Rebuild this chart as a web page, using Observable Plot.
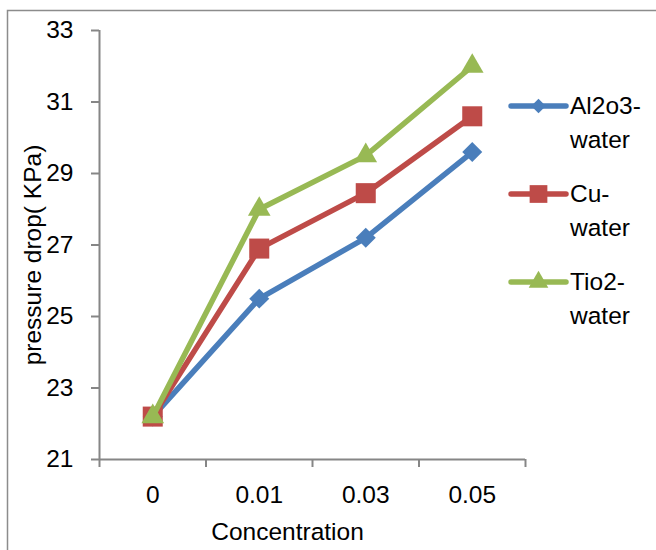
<!DOCTYPE html>
<html>
<head>
<meta charset="utf-8">
<script src="https://cdn.jsdelivr.net/npm/d3@7"></script>
<script src="https://cdn.jsdelivr.net/npm/@observablehq/plot@0.6"></script>
<style>
  html, body { margin: 0; padding: 0; background: #fff; }
  #chart { position: relative; width: 656px; height: 550px; overflow: hidden; }
</style>
</head>
<body>
<div id="chart"></div>
<script>
// ---- data ----
const categories = ["0", "0.01", "0.03", "0.05"];
const seriesNames = ["Al2o3-water", "Cu-water", "Tio2-water"];
const al2o3Water = [22.2, 25.5, 27.2, 29.6];
const cuWater = [22.2, 26.9, 28.45, 30.6];
const tio2Water = [22.2, 28.0, 29.5, 32.0];
const yTicks = [21, 23, 25, 27, 29, 31, 33];
const xLabel = "Concentration";
const yLabel = "pressure drop( KPa)";

// ---- styles ----
const colors = ["#4a7ebb", "#be4b48", "#98b954"];
const symbols = ["diamond2", "square", "triangle"];
const radii = [9, 11.3, 8.4];
const axisGray = "#868686";
const font = "Liberation Sans, Arial, sans-serif";
const fontSize = "24.5px";

const seriesValues = [al2o3Water, cuWater, tio2Water];
const rows = seriesValues.map((vals, s) =>
  vals.map((v, i) => ({series: seriesNames[s], xi: i + 0.5, value: v}))
);

const marks = [
  Plot.ruleY([21], {stroke: axisGray, strokeWidth: 2}),
  Plot.ruleX([0], {stroke: axisGray, strokeWidth: 2}),
  Plot.axisY({ticks: yTicks, tickSize: 8, tickPadding: 18, stroke: axisGray, strokeWidth: 2, fill: "#000", label: null}),
  Plot.axisX({ticks: d3.range(categories.length + 1), tickSize: 8, tickFormat: () => "", stroke: axisGray, strokeWidth: 2, label: null}),
  Plot.axisX({ticks: categories.map((c, i) => i + 0.5), tickSize: 0, tickPadding: 26, tickFormat: d => categories[d - 0.5], fill: "#000", label: null}),
  Plot.text([xLabel], {frameAnchor: "bottom", textAnchor: "middle", dy: 73, dx: -25, lineAnchor: "middle", fill: "#000"}),
  Plot.text([yLabel], {frameAnchor: "left", textAnchor: "middle", rotate: -90, dx: -66, dy: 10, lineAnchor: "middle", fill: "#000"})
];
rows.forEach((data, s) => {
  marks.push(Plot.line(data, {x: "xi", y: "value", stroke: colors[s], strokeWidth: 5.5, strokeLinejoin: "round", strokeLinecap: "round"}));
  marks.push(Plot.dot(data, {x: "xi", y: "value", symbol: () => symbols[s], fill: colors[s], r: radii[s], stroke: "none"}));
});

const plot = Plot.plot({
  width: 656,
  height: 550,
  marginLeft: 99,
  marginRight: 131,
  marginTop: 30,
  marginBottom: 91,
  style: {fontFamily: font, fontSize: fontSize, background: "#fff", overflow: "visible"},
  x: {type: "linear", domain: [0, categories.length], axis: null},
  y: {domain: [21, 33], axis: null},
  symbol: {type: "identity"},
  marks
});

const svg = d3.select(plot);
// outer chart border (only top & left visible in reference)
svg.insert("rect", ":first-child")
  .attr("x", 7.5).attr("y", 10.5).attr("width", 700).attr("height", 600)
  .attr("fill", "none").attr("stroke", "#8c8c8c").attr("stroke-width", 1.5);

// legend
const symMap = {diamond2: d3.symbolDiamond2, square: d3.symbolSquare, triangle: d3.symbolTriangle};
const legendSizes = [6.5, 10, 7.3];
const legend = svg.append("g").attr("font-family", font).attr("font-size", fontSize).attr("text-anchor", "start");
seriesNames.forEach((name, s) => {
  const cy = 106 + s * 88;
  const g = legend.append("g");
  g.append("line").attr("x1", 511).attr("x2", 566).attr("y1", cy).attr("y2", cy)
    .attr("stroke", colors[s]).attr("stroke-width", 5.5).attr("stroke-linecap", "round");
  g.append("path").attr("transform", `translate(538.5,${cy})`)
    .attr("d", d3.symbol(symMap[symbols[s]], Math.PI * legendSizes[s] ** 2)())
    .attr("fill", colors[s]);
  const k = name.indexOf("-");
  const parts = [name.slice(0, k + 1), name.slice(k + 1)];
  const t = g.append("text").attr("x", 570).attr("y", cy + 8).attr("fill", "#000").attr("text-anchor", "start");
  parts.forEach((p, j) => t.append("tspan").attr("x", 570).attr("dy", j === 0 ? 0 : 34).text(p));
});

document.getElementById("chart").appendChild(plot);
</script>
</body>
</html>
